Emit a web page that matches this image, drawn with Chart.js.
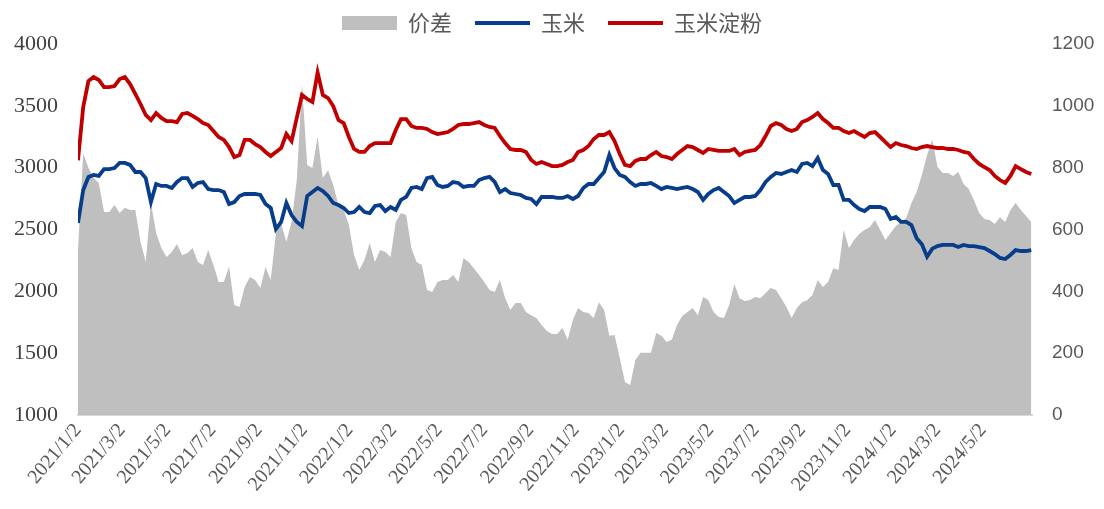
<!DOCTYPE html>
<html>
<head>
<meta charset="utf-8">
<script src="https://cdn.jsdelivr.net/npm/chart.js@4"></script>
<style>
  html, body { margin: 0; padding: 0; background: #fff; }
  #c { display: block; }
</style>
</head>
<body>
<canvas id="c" width="1104" height="509"></canvas>
<script>
// weekly samples, first one on 2021/1/2
var startDate = '2021/1/2';
var stepDays = 7;
var lastDay = 1282;

var tickLabels = ['2021/1/2', '2021/3/2', '2021/5/2', '2021/7/2', '2021/9/2', '2021/11/2',
    '2022/1/2', '2022/3/2', '2022/5/2', '2022/7/2', '2022/9/2', '2022/11/2',
    '2023/1/2', '2023/3/2', '2023/5/2', '2023/7/2', '2023/9/2', '2023/11/2',
    '2024/1/2', '2024/3/2', '2024/5/2'];

// 价差 (right axis)
var spread = [534, 847, 800, 767, 750, 657, 657, 679, 653, 670,
    663, 663, 560, 495, 686, 589, 540, 511, 527, 553,
    517, 524, 540, 495, 485, 534, 485, 430, 430, 480,
    356, 349, 414, 446, 437, 411, 479, 437, 589, 618,
    560, 624, 760, 1070, 809, 799, 900, 767, 792, 744,
    679, 663, 615, 517, 469, 501, 556, 495, 534, 527,
    511, 624, 653, 647, 540, 495, 485, 404, 398, 430,
    437, 437, 453, 430, 508, 495, 475, 453, 430, 404,
    398, 437, 378, 340, 362, 362, 333, 323, 314, 291,
    272, 262, 262, 281, 243, 307, 346, 333, 330, 314,
    365, 340, 256, 259, 184, 107, 97, 178, 201, 201,
    201, 265, 256, 236, 243, 291, 320, 333, 346, 323,
    382, 372, 333, 317, 314, 356, 424, 378, 369, 372,
    382, 378, 395, 411, 404, 378, 349, 314, 346, 365,
    372, 388, 437, 414, 430, 475, 469, 598, 540, 566,
    586, 598, 608, 631, 598, 566, 589, 611, 624, 637,
    686, 721, 776, 841, 890, 802, 783, 783, 773, 786,
    747, 731, 695, 653, 634, 631, 618, 640, 624, 663,
    686, 663, 644, 624];

// 玉米
var corn = [2553, 2819, 2925, 2941, 2933, 2989, 2989, 2997, 3038, 3038,
    3022, 2965, 2965, 2916, 2722, 2868, 2852, 2852, 2836, 2884,
    2916, 2916, 2844, 2876, 2884, 2827, 2819, 2819, 2803, 2706,
    2722, 2771, 2787, 2787, 2787, 2779, 2706, 2674, 2504, 2561,
    2714, 2617, 2561, 2528, 2771, 2803, 2836, 2811, 2771, 2714,
    2698, 2674, 2633, 2641, 2682, 2641, 2633, 2690, 2698, 2649,
    2682, 2658, 2739, 2763, 2836, 2844, 2827, 2916, 2925, 2860,
    2844, 2852, 2884, 2876, 2844, 2852, 2852, 2900, 2916, 2925,
    2884, 2803, 2827, 2795, 2787, 2779, 2755, 2747, 2706, 2763,
    2763, 2763, 2755, 2755, 2771, 2747, 2771, 2836, 2868, 2868,
    2916, 2965, 3102, 2997, 2941, 2925, 2884, 2852, 2868, 2868,
    2876, 2852, 2827, 2844, 2836, 2827, 2836, 2844, 2827, 2803,
    2739, 2787, 2819, 2836, 2803, 2771, 2714, 2739, 2763, 2763,
    2771, 2819, 2884, 2925, 2957, 2949, 2965, 2981, 2965, 3030,
    3038, 3013, 3078, 2981, 2949, 2860, 2860, 2739, 2739, 2698,
    2666, 2649, 2682, 2682, 2682, 2666, 2585, 2601, 2561, 2561,
    2536, 2430, 2380, 2280, 2345, 2366, 2375, 2375, 2375, 2358,
    2375, 2366, 2366, 2358, 2350, 2326, 2302, 2270, 2261, 2294,
    2334, 2326, 2326, 2334];

// 玉米淀粉
var starch = [3060, 3490, 3700, 3733, 3709, 3652, 3652, 3660, 3717, 3733,
    3676, 3596, 3515, 3426, 3385, 3442, 3402, 3377, 3377, 3369,
    3434, 3442, 3418, 3393, 3361, 3345, 3296, 3248, 3224, 3167,
    3086, 3102, 3224, 3224, 3191, 3167, 3127, 3094, 3127, 3159,
    3272, 3215, 3402, 3588, 3555, 3531, 3770, 3588, 3563, 3498,
    3385, 3361, 3248, 3151, 3127, 3127, 3175, 3199, 3199, 3199,
    3199, 3305, 3393, 3393, 3337, 3321, 3321, 3313, 3288, 3272,
    3280, 3288, 3313, 3345, 3353, 3353, 3361, 3369, 3345, 3329,
    3321, 3256, 3199, 3151, 3143, 3143, 3127, 3062, 3030, 3046,
    3030, 3013, 3013, 3022, 3046, 3062, 3127, 3143, 3175, 3232,
    3264, 3264, 3288, 3215, 3110, 3022, 3013, 3054, 3070, 3070,
    3102, 3127, 3094, 3086, 3070, 3110, 3143, 3175, 3167, 3143,
    3119, 3151, 3143, 3135, 3135, 3135, 3151, 3102, 3127, 3135,
    3143, 3183, 3256, 3337, 3361, 3345, 3313, 3296, 3313, 3369,
    3385, 3410, 3442, 3393, 3361, 3321, 3321, 3296, 3280, 3296,
    3272, 3248, 3280, 3288, 3248, 3207, 3167, 3199, 3183, 3175,
    3159, 3151, 3167, 3175, 3167, 3159, 3159, 3151, 3151, 3143,
    3127, 3119, 3070, 3030, 3005, 2981, 2933, 2900, 2876, 2933,
    3013, 2989, 2965, 2949];

function dayOf(s) {
    var p = s.split('/');
    var q = startDate.split('/');
    return Math.round((Date.UTC(+p[0], p[1] - 1, +p[2]) - Date.UTC(+q[0], q[1] - 1, +q[2])) / 86400000);
}

function toPoints(arr) {
    return arr.map(function (v, i) { return { x: i * stepDays, y: v }; });
}

function plain(v) { return String(v); }

var ctx = document.getElementById('c');

new Chart(ctx, {
    type: 'line',
    data: {
        datasets: [
            {
                label: '价差',
                data: toPoints(spread),
                yAxisID: 'y1',
                fill: 'origin',
                backgroundColor: '#BFBFBF',
                borderColor: '#BFBFBF',
                borderWidth: 0,
                pointRadius: 0,
                pointStyle: 'rect',
                order: 3
            },
            {
                label: '玉米',
                data: toPoints(corn),
                yAxisID: 'y',
                fill: false,
                borderColor: '#083D8C',
                borderWidth: 3.8,
                pointRadius: 0,
                pointStyle: 'line',
                order: 2
            },
            {
                label: '玉米淀粉',
                data: toPoints(starch),
                yAxisID: 'y',
                fill: false,
                borderColor: '#C00000',
                borderWidth: 3.8,
                pointRadius: 0,
                pointStyle: 'line',
                order: 1
            }
        ]
    },
    options: {
        responsive: false,
        animation: false,
        devicePixelRatio: 1,
        layout: { padding: { top: -11, left: 0, right: 0, bottom: 0 } },
        plugins: {
            legend: {
                position: 'top',
                labels: {
                    usePointStyle: true,
                    pointStyleWidth: 55,
                    boxHeight: 14,
                    padding: 23,
                    color: '#595959',
                    font: { family: '"Noto Sans CJK SC"', size: 22 },
                    sort: function (a, b) { return a.datasetIndex - b.datasetIndex; }
                }
            },
            tooltip: { enabled: false }
        },
        scales: {
            x: {
                type: 'linear',
                min: 0,
                max: lastDay,
                grid: { display: false, drawTicks: false },
                border: { color: '#D9D9D9', width: 2 },
                afterBuildTicks: function (scale) {
                    scale.ticks = tickLabels.map(function (s) { return { value: dayOf(s) }; });
                },
                afterFit: function (scale) { scale.height = 94; },
                ticks: {
                    autoSkip: false,
                    minRotation: 50,
                    maxRotation: 50,
                    padding: 4,
                    color: '#595959',
                    font: { family: '"Liberation Serif"', size: 20 },
                    callback: function (v, i) { return tickLabels[i]; }
                }
            },
            y: {
                position: 'left',
                min: 1000,
                max: 4000,
                grid: { display: false, drawTicks: false },
                border: { display: false },
                afterFit: function (scale) { scale.width = 78; },
                ticks: {
                    stepSize: 500,
                    padding: 20,
                    color: '#404040',
                    font: { family: '"Liberation Serif"', size: 22 },
                    callback: plain
                }
            },
            y1: {
                position: 'right',
                min: 0,
                max: 1200,
                grid: { display: false, drawTicks: false },
                border: { display: false },
                afterFit: function (scale) { scale.width = 72; },
                ticks: {
                    stepSize: 200,
                    padding: 20,
                    color: '#595959',
                    font: { family: '"Liberation Sans"', size: 19 },
                    callback: plain
                }
            }
        }
    }
});
</script>
</body>
</html>
